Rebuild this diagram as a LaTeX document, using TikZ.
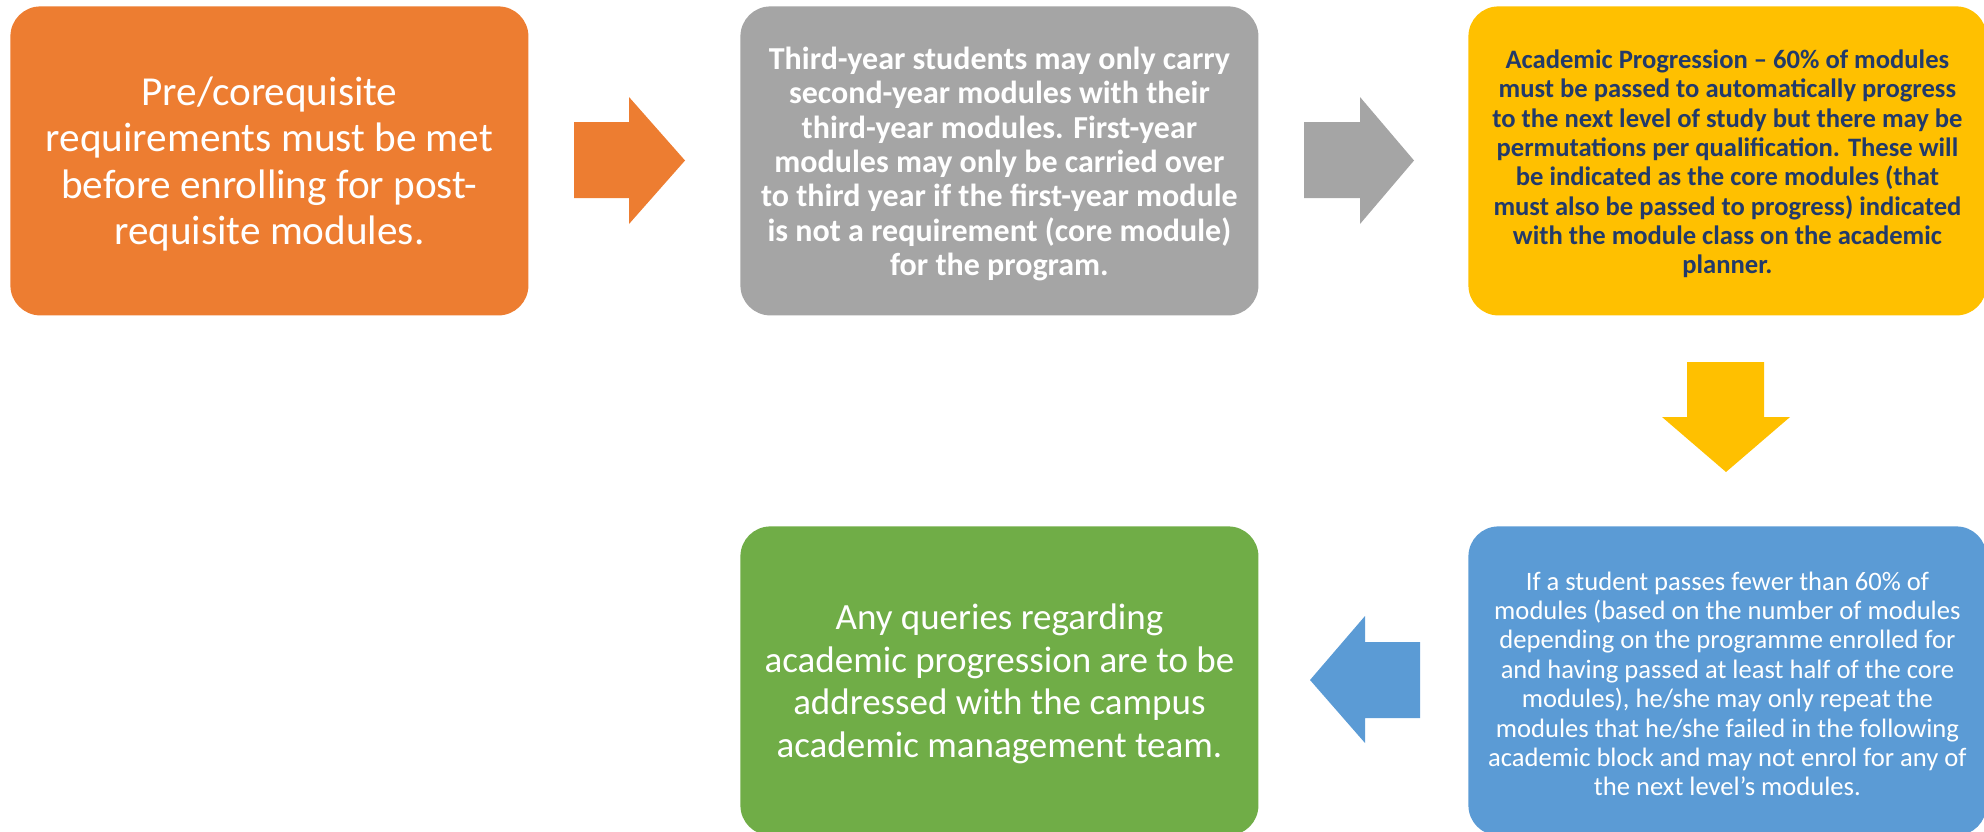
\documentclass[tikz,border=0pt]{standalone}
\usepackage{fontspec}
\setmainfont{Carlito}
\definecolor{boxorange}{HTML}{ED7D31}
\definecolor{boxgray}{HTML}{A5A5A5}
\definecolor{boxyellow}{HTML}{FFC000}
\definecolor{boxblue}{HTML}{5B9BD5}
\definecolor{boxgreen}{HTML}{70AD47}
\definecolor{navytext}{HTML}{223A6A}
\begin{document}
\begin{tikzpicture}[x=0.5pt,y=-0.5pt,
  infobox/.style={rounded corners=15pt, minimum width=259pt, minimum height=154.5pt,
    inner sep=0pt, anchor=north west},
  boxtext/.style={align=center, inner sep=0pt, yshift=-1.5pt}]
\useasboundingbox (0,0) rectangle (1984,831);

% step boxes
\node[infobox, fill=boxorange] (b1) at (10,6) {};
\node[infobox, fill=boxgray]   (b2) at (740,6) {};
\node[infobox, fill=boxyellow] (b3) at (1468,6) {};
\node[infobox, fill=boxblue]   (b4) at (1468,526) {};
\node[infobox, fill=boxgreen]  (b5) at (740,526) {};

% box texts
\node[boxtext, text=white, font=\fontsize{20.6}{23.2}\selectfont] (t1) at (b1.center)
  {Pre/corequisite\\requirements must be met\\before enrolling for post-\\requisite modules.};
\node[boxtext, text=white, font=\fontsize{16}{17.2}\selectfont\bfseries] (t2) at (b2.center)
  {Third-year students may only carry\\second-year modules with their\\third-year modules. First-year\\modules may only be carried over\\to third year if the first-year module\\is not a requirement (core module)\\for the program.};
\node[boxtext, text=navytext, font=\fontsize{13.3}{14.65}\selectfont\bfseries] (t3) at (b3.center)
  {Academic Progression -- 60\% of modules\\must be passed to automatically progress\\to the next level of study but there may be\\permutations per qualification. These will\\be indicated as the core modules (that\\must also be passed to progress) indicated\\with the module class on the academic\\planner.};
\node[boxtext, text=white, font=\fontsize{13.3}{14.7}\selectfont] (t4) at (b4.center)
  {If a student passes fewer than 60\% of\\modules (based on the number of modules\\depending on the programme enrolled for\\and having passed at least half of the core\\modules), he/she may only repeat the\\modules that he/she failed in the following\\academic block and may not enrol for any of\\the next level’s modules.};
\node[boxtext, text=white, font=\fontsize{18.5}{21.2}\selectfont] (t5) at (b5.center)
  {Any queries regarding\\academic progression are to be\\addressed with the campus\\academic management team.};

% block arrows between the steps
\fill[boxorange] (574,122) -- (629,122) -- (629,97) -- (685,160.5) -- (629,224)
  -- (629,198) -- (574,198) -- cycle;
\fill[boxgray] (1304,122) -- (1360,122) -- (1360,97) -- (1414,160.5) -- (1360,224)
  -- (1360,198) -- (1304,198) -- cycle;
\fill[boxyellow] (1687,362) -- (1764,362) -- (1764,417) -- (1790,417) -- (1726,472)
  -- (1662,417) -- (1687,417) -- cycle;
\fill[boxblue] (1420,642) -- (1365,642) -- (1365,616) -- (1310,680) -- (1365,743)
  -- (1365,718) -- (1420,718) -- cycle;
\end{tikzpicture}
\end{document}
